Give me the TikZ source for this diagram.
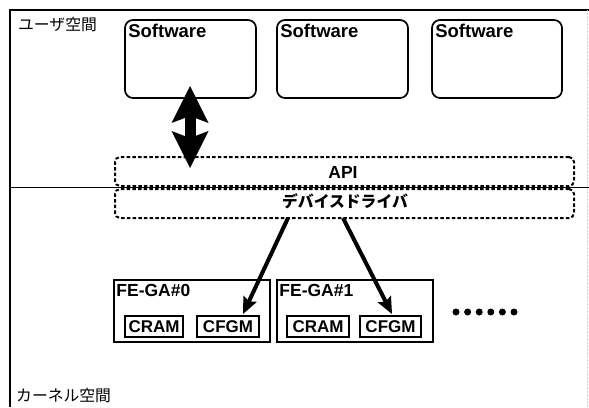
\documentclass[tikz,border=0pt]{standalone}
\usepackage{fontspec}
\setmainfont{Liberation Sans}
\newfontfamily\jpfont{Noto Sans CJK JP}
\usetikzlibrary{arrows.meta}
\tikzset{
  frameline/.style={line width=1.6pt},
  swbox/.style={draw, line width=1.7pt, rounded corners=8pt, inner sep=0pt},
  dbox/.style={draw, line width=2pt, dash pattern=on 3.5pt off 2.2pt, rounded corners=5pt, inner sep=0pt},
  fgbox/.style={draw, line width=1.6pt, inner sep=0pt},
  membox/.style={draw, line width=1.8pt, inner sep=0pt, minimum height=21pt, font=\bfseries\fontsize{17}{18}\selectfont},
  lat/.style={font=\bfseries\fontsize{18.5}{20}\selectfont, inner sep=0pt},
  jp/.style={font=\jpfont\fontsize{15.8}{18}\selectfont, inner sep=0pt},
  thinarrow/.style={line width=4pt, -{Stealth[length=17pt,width=15pt,inset=3pt,line width=0pt]}},
  dotmark/.style={circle, fill, inner sep=0pt, minimum size=7pt}
}
\begin{document}
\begin{tikzpicture}[x=1pt, y=-1pt]
\useasboundingbox (0,0) rectangle (589,407);
% frame
\draw[frameline] (10,407) -- (10,10) -- (589,10);
\draw[gray!35, densely dotted] (587.5,10) -- (587.5,407);
\draw[line width=1.3pt] (10,187.5) -- (589,187.5);
\node[jp, anchor=north west] (user) at (18,17) {ユーザ空間};
\node[jp, anchor=south west] (kern) at (16,403) {カーネル空間};
% software boxes
\node[swbox, minimum width=131pt, minimum height=78pt] (sw1) at (190.5,59) {};
\node[swbox, minimum width=131pt, minimum height=78pt] (sw2) at (342.5,59) {};
\node[swbox, minimum width=130pt, minimum height=78pt] (sw3) at (497,59) {};
\node[lat, anchor=north west] (sw1t) at ([shift={(4,5)}]sw1.north west) {Software};
\node[lat, anchor=north west] (sw2t) at ([shift={(4,5)}]sw2.north west) {Software};
\node[lat, anchor=north west] (sw3t) at ([shift={(4,5)}]sw3.north west) {Software};
% API / driver
\node[dbox, minimum width=459pt, minimum height=29pt] (api) at (344.5,171.5) {};
\node[lat, font=\bfseries\fontsize{17.5}{18}\selectfont] (apit) at (343,172) {API};
\node[dbox, minimum width=459pt, minimum height=29pt] (drv) at (344.5,203.5) {};
\node[jp, font=\jpfont\bfseries\fontsize{15.8}{18}\selectfont] (drvt) at (345,201) {デバイスドライバ};
% double arrow
\coordinate (da1) at (190,86);
\coordinate (da2) at (190,168);
\draw[line width=11pt, {Stealth[length=37pt,width=37pt,inset=7pt,line width=0pt]}-{Stealth[length=37pt,width=37pt,inset=7pt,line width=0pt]}] (da1) -- (da2);
% FE-GA boxes
\node[fgbox, minimum width=156pt, minimum height=62pt] (fg0) at (192,311) {};
\node[fgbox, minimum width=156pt, minimum height=62pt] (fg1) at (355,311) {};
\node[lat, font=\bfseries\fontsize{17.5}{18}\selectfont, anchor=north west] (fg0t) at ([shift={(3,5)}]fg0.north west) {FE-GA\#0};
\node[lat, font=\bfseries\fontsize{17.5}{18}\selectfont, anchor=north west] (fg1t) at ([shift={(3,5)}]fg1.north west) {FE-GA\#1};
\node[membox, minimum width=58pt] (cram0) at (154,326.5) {CRAM};
\node[membox, minimum width=62pt] (cfgm0) at (228,326.5) {CFGM};
\node[membox, minimum width=62pt] (cram1) at (318,326.5) {CRAM};
\node[membox, minimum width=61pt] (cfgm1) at (390.5,326.5) {CFGM};
% arrows
\coordinate (s0) at (288,218);
\coordinate (e0) at (243,314);
\coordinate (s1) at (343,218);
\coordinate (e1) at (392,314);
\draw[thinarrow] (s0) -- (e0);
\draw[thinarrow] (s1) -- (e1);
% dots
\foreach \i in {0,...,5} {
  \node[dotmark] (d\i) at (456+11.6*\i,312) {};
}
\end{tikzpicture}
\end{document}
